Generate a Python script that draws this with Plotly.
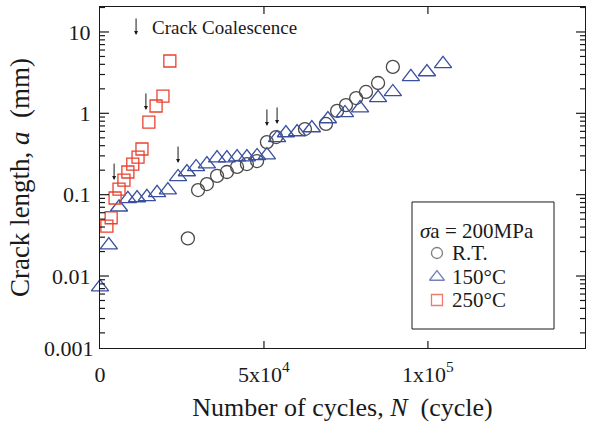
import math
import plotly.graph_objects as go

# Fatigue crack growth: crack length vs number of cycles, sigma_a = 200 MPa
rt_cycles = [26800, 29900, 32600, 35700, 38700, 41800, 44800, 47900,
             50900, 53700, 62500, 68900, 72300, 75000, 78100, 81100, 84800, 89300]
rt_length = [0.029, 0.114, 0.135, 0.170, 0.190, 0.219, 0.238, 0.259,
             0.443, 0.511, 0.641, 0.740, 1.07, 1.26, 1.54, 1.83, 2.36, 3.72]

t150_cycles = [0, 2700, 5800, 8500, 11300, 14300, 17400, 20700, 23800, 26500,
               29300, 32600, 35700, 38700, 41800, 44800, 47900, 50900, 54000,
               56700, 60100, 64600, 69500, 74700, 79300, 84800, 89300, 94800,
               99700, 104600]
t150_length = [0.0073, 0.024, 0.070, 0.089, 0.091, 0.094, 0.105, 0.114, 0.165,
               0.190, 0.219, 0.238, 0.282, 0.282, 0.290, 0.290, 0.299, 0.307,
               0.498, 0.573, 0.589, 0.660, 0.851, 1.01, 1.16, 1.55, 1.83, 2.80,
               3.22, 4.05]

t250_cycles = [2100, 3400, 4600, 5800, 7300, 8500, 10000, 11600, 12800,
               14900, 17100, 19200, 21300]
t250_length = [0.041, 0.052, 0.091, 0.117, 0.151, 0.190, 0.238, 0.290, 0.364,
               0.78, 1.23, 1.63, 4.4]

# points where crack coalescence occurs (cycles, crack length in mm)
coalescence_cycles = [4300, 14000, 23800, 50900, 54000]
coalescence_length = [0.151, 1.10, 0.245, 0.70, 0.74]

series_names = ["R.T.", "150°C", "250°C"]
legend_heading = "<i>σ</i>a = 200MPa"

x_tickvals = [0, 50000, 100000]
x_ticktext = ["0", "5x10<sup>4</sup>", "1x10<sup>5</sup>"]
y_major = [0.01, 0.1, 1, 10]
y_major_text = ["0.01", "0.1", "1", "10"]

SERIF = "Liberation Serif, Times New Roman, serif"
INK = "#1a1a1a"
X_RANGE = [0, 147900]
Y_RANGE = [-2.885, 1.307]
PLOT_W, PLOT_H = 485, 341   # plotting area in pixels

styles = [
    dict(symbol="circle-open", size=13, color="#4a4a4a"),
    dict(symbol="triangle-up-open", size=15, color="#3a4f9e"),
    dict(symbol="square-open", size=12, color="#e8432f"),
]
legend_sizes = [11, 13, 11]

fig = go.Figure()
for (xs, ys), name, st in zip(
        [(rt_cycles, rt_length), (t150_cycles, t150_length),
         (t250_cycles, t250_length)], series_names, styles):
    fig.add_trace(go.Scatter(
        x=xs, y=ys, mode="markers", name=name, showlegend=False,
        marker=dict(symbol=st["symbol"], size=st["size"], color=st["color"],
                    line=dict(width=1.3)),
        cliponaxis=False))

annotations = []
arrow_style = dict(xref="x", yref="y", text="", showarrow=True, ax=0,
                   ay=-18, arrowhead=2, arrowsize=0.8, arrowwidth=1,
                   arrowcolor=INK)
for cx, cy in zip(coalescence_cycles, coalescence_length):
    annotations.append(dict(x=cx, y=math.log10(cy), **arrow_style))
# key arrow next to the caption
annotations.append(dict(x=11000, y=0.963, **arrow_style))
annotations.append(dict(
    x=15200, y=1.049, xref="x", yref="y", text="Crack Coalescence",
    showarrow=False, xanchor="left", yanchor="middle",
    font=dict(family=SERIF, size=19, color=INK)))

# legend frame, keys and labels
LEG_X0, LEG_X1, LEG_Y0, LEG_Y1 = 0.6433, 0.9361, 0.0557, 0.4282
shapes = [dict(type="rect", xref="paper", yref="paper",
               x0=LEG_X0, x1=LEG_X1, y0=LEG_Y0, y1=LEG_Y1,
               line=dict(color=INK, width=1), fillcolor="white",
               layer="below")]
legend_rows = [0.2786, 0.2082, 0.1408]
fig.add_trace(go.Scatter(
    x=[0.6948] * 3, y=legend_rows, xaxis="x2", yaxis="y3", mode="markers",
    showlegend=False, hoverinfo="skip",
    marker=dict(symbol=[s["symbol"] for s in styles], size=legend_sizes,
                color=[s["color"] for s in styles], line=dict(width=1.3)),
    cliponaxis=False))
for name, yy in zip(series_names, legend_rows):
    annotations.append(dict(
        x=0.7216, y=yy, xref="paper", yref="paper", text=name,
        showarrow=False, xanchor="left", yanchor="middle",
        font=dict(family=SERIF, size=21, color=INK)))
annotations.append(dict(
    x=0.6557, y=0.342, xref="paper", yref="paper", text=legend_heading,
    showarrow=False, xanchor="left", yanchor="middle",
    font=dict(family=SERIF, size=21, color=INK)))
# bottom decade label
annotations.append(dict(
    x=0, y=0, xref="paper", yref="paper", text="0.001", showarrow=False,
    xanchor="right", yanchor="middle", xshift=-4,
    font=dict(family=SERIF, size=22, color=INK)))

# inward tick marks on all four sides, placed in axis-domain fractions
tick_line = dict(color=INK, width=1.2)
for e in range(-3, 2):
    for m in range(1, 10):
        v = m * 10 ** e
        f = (math.log10(v) - Y_RANGE[0]) / (Y_RANGE[1] - Y_RANGE[0])
        if not 0 < f < 1:
            continue
        length = (9 if m == 1 else 5) / PLOT_W
        for x0, x1 in [(0, length), (1 - length, 1)]:
            shapes.append(dict(type="line", xref="x domain", yref="y domain",
                               x0=x0, x1=x1, y0=f, y1=f, line=tick_line,
                               layer="above"))
for v in x_tickvals:
    f = (v - X_RANGE[0]) / (X_RANGE[1] - X_RANGE[0])
    if not 0 < f < 1:
        continue
    length = 7 / PLOT_H
    for y0, y1 in [(0, length), (1 - length, 1)]:
        shapes.append(dict(type="line", xref="x domain", yref="y domain",
                           x0=f, x1=f, y0=y0, y1=y1, line=tick_line,
                           layer="above"))

fig.update_layout(
    template="none",
    width=593, height=441,
    margin=dict(l=100, r=8, t=7, b=93),
    paper_bgcolor="white", plot_bgcolor="white",
    font=dict(family=SERIF, size=22, color=INK),
    showlegend=False,
    shapes=shapes,
    annotations=annotations,
    xaxis=dict(
        range=X_RANGE, tickmode="array", tickvals=x_tickvals,
        ticktext=x_ticktext, ticks="", showline=True, linecolor=INK,
        linewidth=1.3, mirror=True, showgrid=False, zeroline=False,
        ticklabelstandoff=6,
        title=dict(text="Number of cycles, <i>N</i>  (cycle)",
                   font=dict(size=26), standoff=12)),
    yaxis=dict(
        type="log", range=Y_RANGE, tickmode="array", tickvals=y_major,
        ticktext=y_major_text, ticks="", showline=True, linecolor=INK,
        linewidth=1.3, mirror=True, showgrid=False, zeroline=False,
        ticklabelstandoff=4,
        title=dict(text="Crack length, <i>a</i>  (mm)",
                   font=dict(size=27), standoff=14)),
    # unit frame for the legend keys
    xaxis2=dict(range=[0, 1], overlaying="x", visible=False, anchor="y3"),
    yaxis3=dict(range=[0, 1], overlaying="y", visible=False, anchor="x2"),
)

fig.write_html("out.html")
